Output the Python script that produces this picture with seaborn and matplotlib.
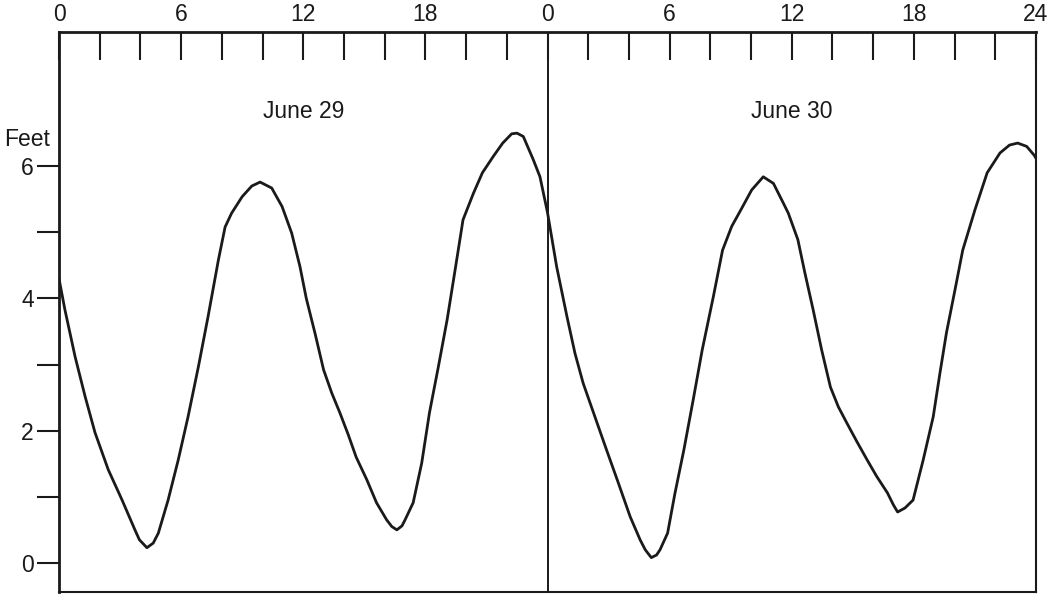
import matplotlib
matplotlib.use("Agg")
import matplotlib.pyplot as plt
import seaborn as sns
import pandas as pd

# Hours since midnight June 29 (0-48) and tide height in feet
hours = [0.0, 0.29, 0.79, 1.28, 1.77, 2.42, 3.1, 3.73, 3.95, 4.32, 4.63, 4.88, 5.36,
         5.86, 6.34, 6.85, 7.32, 7.83, 8.16, 8.48, 9.0, 9.47, 9.88, 10.45, 10.96,
         11.43, 11.84, 12.15, 12.58, 13.0, 13.4, 13.8, 14.21, 14.6, 15.12, 15.6,
         16.1, 16.35, 16.6, 16.85, 17.0, 17.4, 17.82, 18.2, 18.64, 19.07, 19.46,
         19.85, 20.36, 20.8, 21.34, 21.8, 22.24, 22.5, 22.81, 23.3, 23.63, 24.0,
         24.45, 24.96, 25.35, 25.75, 26.33, 26.9, 27.48, 28.06, 28.55, 28.8, 29.1,
         29.36, 29.53, 29.9, 30.26, 30.7, 31.16, 31.6, 32.15, 32.6, 33.05, 33.5,
         34.03, 34.6, 35.1, 35.59, 35.83, 36.3, 36.65, 37.05, 37.47, 37.9, 38.29,
         38.7, 39.19, 39.7, 40.17, 40.7, 40.99, 41.2, 41.56, 41.96, 42.46, 42.95,
         43.28, 43.6, 44.02, 44.4, 45.0, 45.6, 46.23, 46.7, 47.1, 47.54, 47.9, 48.0]
feet = [4.3, 3.83, 3.12, 2.52, 1.97, 1.41, 0.95, 0.5, 0.35, 0.23, 0.3, 0.45, 0.95,
        1.56, 2.21, 2.97, 3.72, 4.58, 5.08, 5.29, 5.54, 5.70, 5.76, 5.67, 5.39,
        4.99, 4.48, 4.0, 3.47, 2.92, 2.57, 2.27, 1.94, 1.6, 1.26, 0.91,
        0.65, 0.55, 0.5, 0.56, 0.65, 0.91, 1.51, 2.27, 2.97, 3.68, 4.43,
        5.19, 5.59, 5.9, 6.15, 6.35, 6.49, 6.5, 6.45, 6.1, 5.84, 5.3,
        4.48, 3.72, 3.17, 2.72, 2.21, 1.71, 1.21, 0.7, 0.35, 0.2, 0.08,
        0.12, 0.2, 0.45, 1.05, 1.71, 2.47, 3.22, 4.03, 4.73, 5.09, 5.34,
        5.64, 5.84, 5.74, 5.44, 5.29, 4.89, 4.38, 3.83, 3.22, 2.66, 2.36,
        2.12, 1.84, 1.56, 1.31, 1.06, 0.88, 0.77, 0.83, 0.95, 1.56, 2.21,
        2.87, 3.48, 4.13, 4.73, 5.34, 5.9, 6.2, 6.32, 6.35, 6.3, 6.17, 6.12]

day_labels = ["June 29", "June 30"]
day_label_hours = [12, 36]
top_tick_hours = list(range(0, 49, 2))
top_tick_labels = ["0" if h == 0 else ("24" if h == 48 else (str(h % 24) if h % 6 == 0 else "")) for h in top_tick_hours]
y_ticks = [0, 1, 2, 3, 4, 5, 6]
y_tick_labels = ["0", "", "2", "", "4", "", "6"]

sns.set_theme(style="white")
plt.rcParams["font.family"] = ["Liberation Sans", "DejaVu Sans"]

ink = "#1a1a1a"
fig = plt.figure(figsize=(10.56, 5.94), dpi=100)
ax = fig.add_axes([59 / 1056, 1 - 592 / 594, (1036 - 59) / 1056, (592 - 32) / 594])

df = pd.DataFrame({"hour": hours, "feet": feet})
sns.lineplot(data=df, x="hour", y="feet", ax=ax, color=ink, linewidth=2.0,
             sort=False, estimator=None, solid_joinstyle="round", solid_capstyle="round")

ax.set_xlim(0, 48)
ax.set_ylim(-0.44, 8.03)
ax.axvline(24, color=ink, linewidth=1.4)

ax.xaxis.tick_top()
ax.set_xticks(top_tick_hours)
ax.set_xticklabels(top_tick_labels)
ax.tick_params(axis="x", direction="in", length=20, width=1.5, colors=ink,
               labelsize=16.5, pad=4, top=True, bottom=False)
ax.set_yticks(y_ticks)
ax.set_yticklabels(y_tick_labels)
ax.tick_params(axis="y", direction="out", length=16, width=1.5, colors=ink,
               labelsize=16.5, pad=2, left=True, right=False)
ax.set_xlabel("")
ax.set_ylabel("")

for s in ["left", "top"]:
    ax.spines[s].set_linewidth(2.0)
for s in ["right", "bottom"]:
    ax.spines[s].set_linewidth(1.5)
for s in ax.spines.values():
    s.set_color(ink)

for lab, h in zip(day_labels, day_label_hours):
    ax.text(h, 6.82, lab, ha="center", va="center", fontsize=16.5, color=ink)

ax.text(-0.45, 6.4, "Feet", ha="right", va="center", fontsize=16.5, color=ink,
        clip_on=False)

fig.savefig("out.png", dpi=100, facecolor="white")
